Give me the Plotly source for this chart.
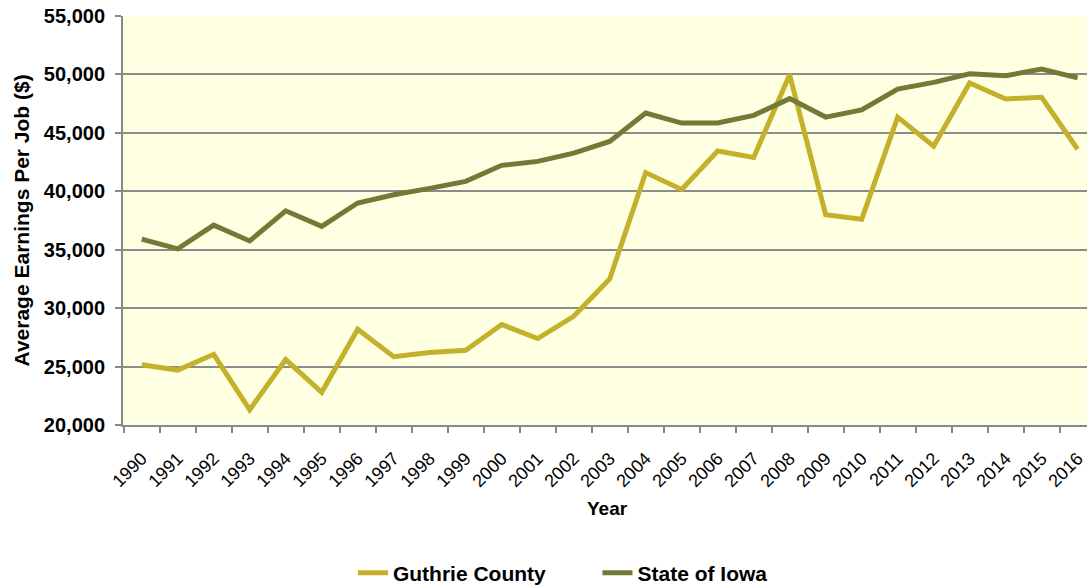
import plotly.graph_objects as go

years = [str(y) for y in range(1990, 2017)]
guthrie = [25150, 24700, 26050, 21300, 25600, 22800, 28200, 25850, 26200, 26400,
           28600, 27400, 29300, 32500, 41600, 40150, 43450, 42900, 49970, 38000,
           37600, 46350, 43850, 49270, 47900, 48050, 43600]
iowa = [35900, 35070, 37100, 35750, 38330, 37000, 39000, 39700, 40250, 40850,
        42220, 42560, 43270, 44270, 46700, 45840, 45840, 46500, 47930, 46350,
        46970, 48750, 49320, 50060, 49890, 50460, 49700]

FONT = "Liberation Sans, Arial, sans-serif"
NB = "\u00a0"

fig = go.Figure()
fig.add_trace(go.Scatter(x=years, y=guthrie, mode="lines",
                         name="<b>Guthrie County</b>" + NB * 8,
                         line=dict(color="#C3B12B", width=5)))
fig.add_trace(go.Scatter(x=years, y=iowa, mode="lines", name="<b>State of Iowa</b>",
                         line=dict(color="#747A36", width=5)))

fig.update_layout(
    width=1087, height=585,
    margin=dict(l=123, r=0, t=16, b=160),
    paper_bgcolor="white",
    plot_bgcolor="#FFFFE1",
    font=dict(family=FONT, color="black"),
    showlegend=True,
    legend=dict(orientation="h", xref="container", yref="container",
                x=0.3247, xanchor="left", y=0.0205, yanchor="middle",
                font=dict(size=21, family=FONT),
                traceorder="normal", itemwidth=30),
    xaxis=dict(
        type="category", range=[-0.52, 26.26], automargin=False,
        tickson="boundaries", ticks="outside", ticklen=6, tickcolor="#888888", tickwidth=1.5,
        tickangle=-45, tickfont=dict(size=18, family=FONT), ticklabelstandoff=14,
        showgrid=False, showline=True, linecolor="#888888", linewidth=2,
    ),
    yaxis=dict(
        range=[20000, 55000], dtick=5000, tickformat=",d", automargin=False,
        tickfont=dict(size=20, family=FONT),
        ticks="outside", ticklen=6, tickcolor="#888888", tickwidth=1.5,
        ticklabelstandoff=6,
        showgrid=True, gridcolor="#8C8C8C", gridwidth=1.5,
        showline=True, linecolor="#888888", linewidth=2,
        zeroline=False,
        tickprefix="<b>", ticksuffix="</b>",
    ),
    annotations=[
        dict(text="<b>Average Earnings Per Job ($)</b>", xref="paper", yref="paper",
             x=-0.1048, y=0.5, xanchor="center", yanchor="middle", textangle=-90,
             showarrow=False, font=dict(size=21, family=FONT, color="black")),
        dict(text="<b>Year</b>", xref="paper", yref="paper",
             x=0.503, y=-0.203, xanchor="center", yanchor="middle",
             showarrow=False, font=dict(size=19, family=FONT, color="black")),
    ],
)

fig.write_html("out.html", config={"displayModeBar": False},
               post_script="document.body.style.margin='0';document.body.style.overflow='hidden';")
